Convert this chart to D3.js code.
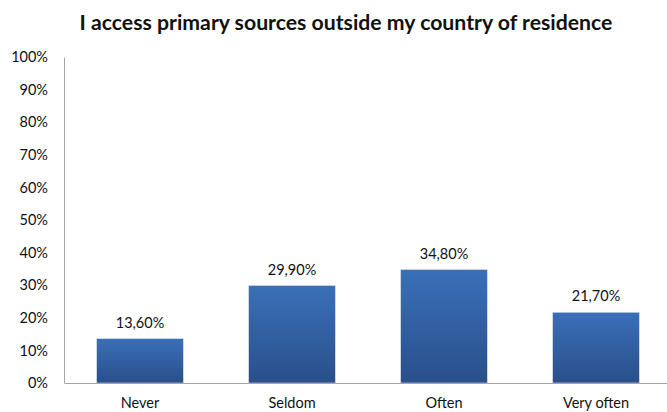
<!DOCTYPE html>
<html>
<head>
<meta charset="utf-8">
<title>Primary sources</title>
<style>
    body { margin: 0; background: #fff; }
    svg text { font-family: Lato, "Open Sans", sans-serif; fill: #111; }
    .axis text { font-size: 14.5px; }
</style>
</head>
<body>
<script src="https://cdnjs.cloudflare.com/ajax/libs/d3/7.8.5/d3.min.js"></script>
<script>
var categories = ["Never", "Seldom", "Often", "Very often"];
var values = [13.6, 29.9, 34.8, 21.7];
var valueLabels = ["13,60%", "29,90%", "34,80%", "21,70%"];
var yTicks = [0, 10, 20, 30, 40, 50, 60, 70, 80, 90, 100];
var title = "I access primary sources outside my country of residence";

var w = 667, h = 412;
var plotLeft = 64, plotRight = 672, plotTop = 57, plotBottom = 383;

var svg = d3.select("body").append("svg")
    .attr("width", w)
    .attr("height", h);

// bar gradient
var grad = svg.append("defs").append("linearGradient")
    .attr("id", "barGrad")
    .attr("x1", 0).attr("y1", 0).attr("x2", 0).attr("y2", 1);
grad.append("stop").attr("offset", "0%").attr("stop-color", "#3a70b8");
grad.append("stop").attr("offset", "100%").attr("stop-color", "#294f8b");

var x = d3.scaleBand()
    .domain(categories)
    .range([plotLeft, plotRight])
    .paddingInner(0.43)
    .paddingOuter(0.215);

var y = d3.scaleLinear()
    .domain([0, 100])
    .range([plotBottom, plotTop]);

// title, fitted to width
var t = svg.append("text")
    .attr("x", 346)
    .attr("y", 30)
    .attr("text-anchor", "middle")
    .style("font-weight", "bold")
    .style("font-size", "20px")
    .text(title);
var len = t.node().getComputedTextLength();
t.style("font-size", (20 * 533 / len) + "px");

// y axis
var yAxis = svg.append("g")
    .attr("class", "axis")
    .attr("transform", "translate(" + plotLeft + ",0)")
    .call(d3.axisLeft(y).tickValues(yTicks).tickSize(0).tickPadding(16)
        .tickFormat(function(d) { return d + "%"; }));
yAxis.select(".domain").attr("stroke", "#a6a6a6");

// bars
svg.append("g")
    .selectAll("rect")
    .data(values)
    .enter()
    .append("rect")
    .attr("x", function(d, i) { return x(categories[i]); })
    .attr("y", function(d) { return y(d); })
    .attr("width", x.bandwidth())
    .attr("height", function(d) { return y(0) - y(d); })
    .attr("fill", "url(#barGrad)")
    .attr("stroke", "#d6dde8")
    .attr("stroke-width", 0.6);

// value labels
svg.append("g")
    .selectAll("text")
    .data(values)
    .enter()
    .append("text")
    .attr("x", function(d, i) { return x(categories[i]) + x.bandwidth() / 2; })
    .attr("y", function(d) { return y(d) - 11; })
    .attr("text-anchor", "middle")
    .style("font-size", "14.5px")
    .text(function(d, i) { return valueLabels[i]; });

// x axis
var xAxis = svg.append("g")
    .attr("class", "axis")
    .attr("transform", "translate(0," + plotBottom + ")")
    .call(d3.axisBottom(x).tickSize(0).tickPadding(15));
xAxis.select(".domain").attr("stroke", "#a6a6a6");
</script>
</body>
</html>
